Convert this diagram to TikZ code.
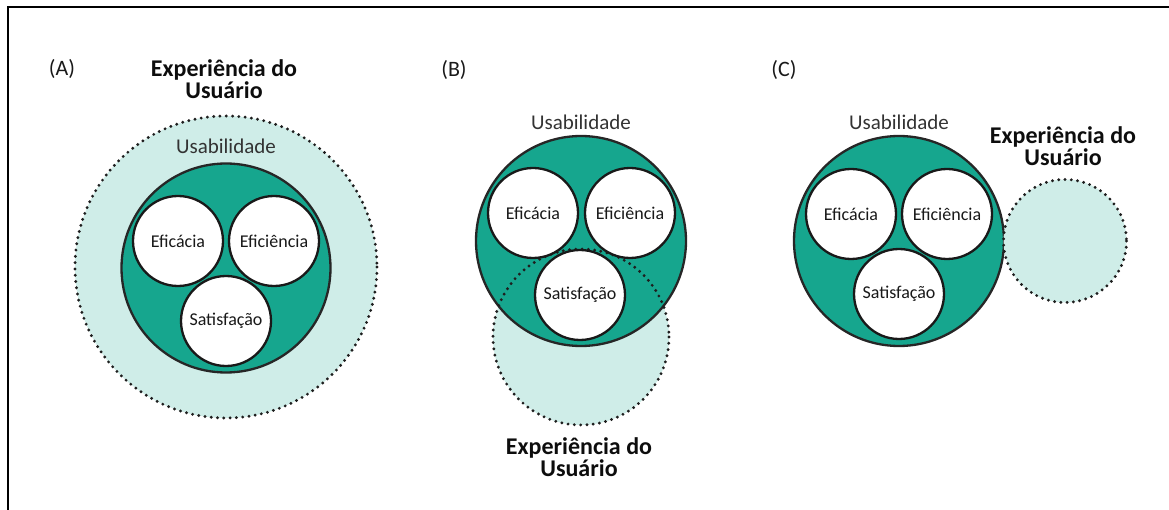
\documentclass[tikz,border=0pt]{standalone}
\usepackage{fontspec}
\setmainfont{Carlito}
\begin{document}
\begin{tikzpicture}[x=1pt,y=-1pt,
  teal/.style={circle,draw=outl,fill=tealc,line width=2.3pt,inner sep=0pt},
  inner/.style={circle,draw=black!90,fill=white,line width=2.3pt,inner sep=0pt,minimum size=90pt,font=\fontsize{18}{20}\selectfont,text=black!90},
  uxfill/.style={fill=lightc},
  uxdot/.style={draw=dotc,line width=3.2pt,line cap=round,dash pattern=on 0pt off 6.3pt},
  lbl/.style={font=\fontsize{21}{24}\selectfont,text=black!80},
  ux/.style={font=\fontsize{24}{22}\bfseries\selectfont,align=center,text=black!95},
  paneltag/.style={font=\fontsize{22}{24}\selectfont,text=black!90}]
\definecolor{tealc}{RGB}{22,166,142}
\definecolor{lightc}{RGB}{207,237,232}
\definecolor{outl}{RGB}{38,38,38}
\definecolor{dotc}{RGB}{30,30,30}
\useasboundingbox (0,0) rectangle (1169,510);
% frame (top and left edges)
\coordinate (fTL) at (8,7);
\coordinate (fTR) at (1169,7);
\coordinate (fBL) at (8,510);
\draw[line width=2pt,black] (fTR) -- (fTL) -- (fBL);

% ===== Panel A =====
\node[paneltag] (tagA) at (62,69) {(A)};
\node[ux] (uxA) at (224,79) {Experiência do\\Usuário};
\fill[uxfill] (226,267) circle (151);
\draw[uxdot] (226,267) circle (151);
\node[lbl] (usA) at (226,146) {Usabilidade};
\node[teal,minimum size=209pt] (uA) at (226,268) {};
\node[inner] (efA) at (178,241) {Eficácia};
\node[inner] (eiA) at (274,241) {Eficiência};
\node[inner] (saA) at (226,321) {Satisfação};

% ===== Panel B =====
\node[paneltag] (tagB) at (454,70) {(B)};
\node[lbl] (usB) at (581,122) {Usabilidade};
\fill[uxfill] (581,337) circle (88);
\node[teal,minimum size=210pt] (uB) at (581,241) {};
\draw[uxdot] (581,337) circle (88);
\node[inner] (efB) at (533,213) {Eficácia};
\node[inner] (eiB) at (630,213) {Eficiência};
\node[inner] (saB) at (580,295) {Satisfação};
\node[ux] (uxB) at (579,457) {Experiência do\\Usuário};

% ===== Panel C =====
\node[paneltag] (tagC) at (784,70) {(C)};
\node[lbl] (usC) at (899,122) {Usabilidade};
\node[teal,minimum size=210pt] (uC) at (899,241) {};
\node[inner] (efC) at (851,214) {Eficácia};
\node[inner] (eiC) at (947,214) {Eficiência};
\node[inner] (saC) at (899,294) {Satisfação};
\fill[uxfill] (1065,241) circle (61.5);
\draw[uxdot] (1065,241) circle (61.5);
\node[ux] (uxC) at (1063,146) {Experiência do\\Usuário};
\end{tikzpicture}
\end{document}
